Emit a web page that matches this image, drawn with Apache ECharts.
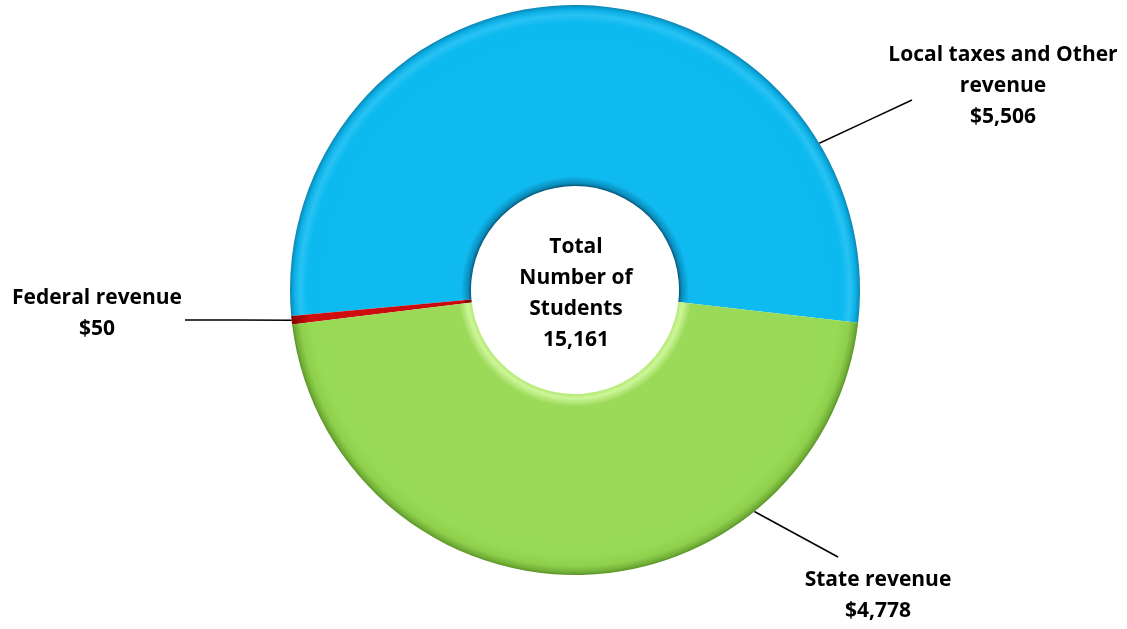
<!DOCTYPE html>
<html>
<head>
<meta charset="utf-8">
<script src="https://cdn.jsdelivr.net/npm/echarts@6/dist/echarts.min.js"></script>
<style>
  html, body { margin: 0; padding: 0; background: #ffffff; }
  #chart { width: 1127px; height: 629px; }
</style>
</head>
<body>
<div id="chart"></div>
<script>
// Revenue sources (in dollars) and the headline figure shown in the hole
const categories = ['Local taxes and Other revenue', 'Federal revenue', 'State revenue'];
const labelNames = ['Local taxes and Other\nrevenue', 'Federal revenue', 'State revenue'];
const values = [5506, 50, 4778];
const centerLines = ['Total', 'Number of', 'Students', '15,161'];

// Geometry of the ring
const CX = 575, CY = 290, R_IN = 104, R_OUT = 285;
const START_ANGLE = -6.6;

// Where each callout sits and where its leader line touches the ring
const callouts = [
  { anchorDeg: 31,   end: [912, 100], text: [1003, 86] },
  { anchorDeg: null, end: [185, 320], text: [97, 314] },
  { anchorDeg: -51,  end: [838, 557], text: [878, 596] }
];

function fmtMoney(v) {
  return '$' + v.toLocaleString('en-US');
}

// midpoint angle of each slice (counter-clockwise from START_ANGLE)
const total = values.reduce((a, b) => a + b, 0);
const midAngles = [];
{
  let acc = START_ANGLE;
  values.forEach(v => {
    const span = v / total * 360;
    midAngles.push(acc + span / 2);
    acc += span;
  });
}

function ringGradient(stops) {
  return {
    type: 'radial', x: CX, y: CY, r: R_OUT, global: true,
    colorStops: stops.map(s => ({ offset: s[0], color: s[1] }))
  };
}
const k = R_IN / R_OUT;
const fills = [
  ringGradient([[k, '#06597a'], [k + 0.01, '#0a8dbd'], [k + 0.035, '#0fbaf0'], [0.94, '#0dbaf0'],
                [0.965, '#29c3f3'], [0.985, '#0cb0e6'], [1, '#0a86b3']]),
  ringGradient([[k, '#7a0000'], [k + 0.04, '#c80a0a'], [0.93, '#d00f0f'], [1, '#8a0000']]),
  ringGradient([[k, '#b4ea74'], [k + 0.015, '#cdf59a'], [k + 0.045, '#9bda58'], [0.93, '#98d956'],
                [0.97, '#8ecf4c'], [0.99, '#72b038'], [1, '#5a9428']])
];

const data = categories.map((name, i) => ({
  name: name,
  value: values[i],
  itemStyle: { color: fills[i] }
}));

const chart = echarts.init(document.getElementById('chart'), null, { renderer: 'canvas' });

const FONT_FAMILY = '"Open Sans", Lato, sans-serif';

chart.setOption({
  animation: false,
  backgroundColor: '#ffffff',
  series: [{
    type: 'pie',
    center: [CX, CY],
    radius: [R_IN, R_OUT],
    startAngle: START_ANGLE,
    clockwise: false,
    avoidLabelOverlap: false,
    data: data,
    itemStyle: { borderWidth: 0 },
    emphasis: { disabled: true },
    label: {
      show: true,
      position: 'outside',
      formatter: p => labelNames[p.dataIndex] + '\n' + fmtMoney(p.value),
      align: 'center',
      lineHeight: 31,
      fontFamily: FONT_FAMILY,
      fontWeight: 'bold',
      fontSize: 21,
      color: '#000000'
    },
    labelLine: {
      show: true,
      lineStyle: { color: '#000000', width: 1.5 }
    },
    labelLayout: function (params) {
      const c = callouts[params.dataIndex];
      const deg = c.anchorDeg == null ? midAngles[params.dataIndex] : c.anchorDeg;
      const rad = deg * Math.PI / 180;
      const sx = CX + R_OUT * Math.cos(rad);
      const sy = CY - R_OUT * Math.sin(rad);
      return {
        x: c.text[0],
        y: c.text[1],
        align: 'center',
        verticalAlign: 'middle',
        labelLinePoints: [[sx, sy], [(sx + c.end[0]) / 2, (sy + c.end[1]) / 2], c.end]
      };
    }
  }],
  graphic: [{
    type: 'text',
    x: CX + 1,
    y: CY + 4,
    style: {
      text: centerLines.join('\n'),
      align: 'center',
      verticalAlign: 'middle',
      lineHeight: 31,
      font: 'bold 21px ' + FONT_FAMILY,
      fill: '#000000'
    }
  }]
});
</script>
</body>
</html>
